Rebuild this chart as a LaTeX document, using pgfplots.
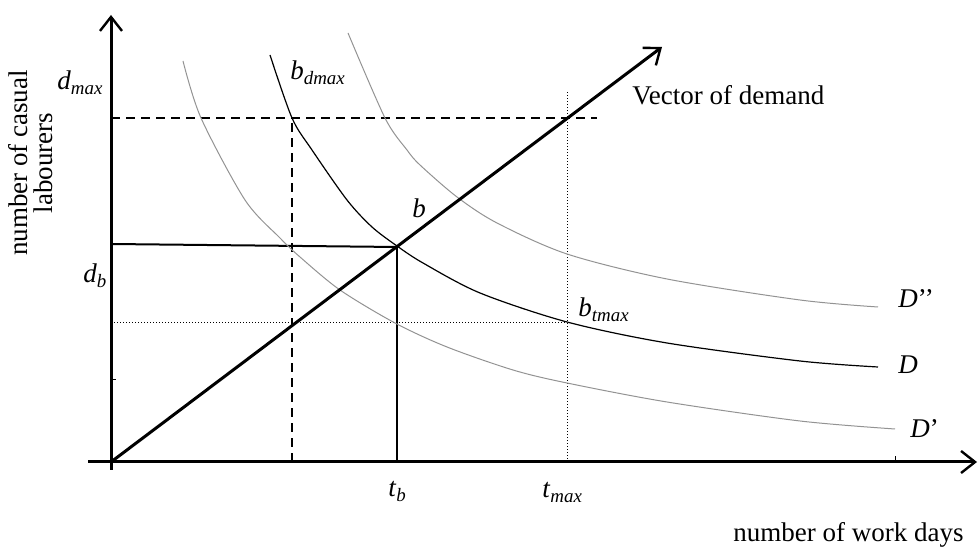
\documentclass[border=0pt]{standalone}
\usepackage{fontspec}
\setmainfont{Liberation Serif}
\usepackage{pgfplots}
\pgfplotsset{compat=1.18}
\usetikzlibrary{arrows.meta}

\newcommand{\isub}[2]{\textit{#1}\textsubscript{\textit{#2}}}

\begin{document}
\begin{tikzpicture}[font=\fontsize{13.5}{16}\selectfont]
\begin{axis}[
  scale only axis,
  width=489.5pt, height=275pt,
  xmin=0, xmax=979, ymin=0, ymax=550,
  hide axis, clip=false,
  every axis plot/.append style={line cap=butt},
]
% axes
\addplot[black, line width=1.5pt, -{Straight Barb[length=7pt,width=11pt,line width=1.2pt]}] coordinates {(88,88)(977,88)};
\addplot[black, line width=1.5pt, -{Straight Barb[length=7pt,width=11pt,line width=1.2pt]}] coordinates {(111,80)(111,535)};
\addplot[black, line width=0.4pt] coordinates {(895,88)(895,94)};
\addplot[black, line width=0.4pt] coordinates {(111,171)(116,171)};

% guide lines
\addplot[black, line width=1pt, dash pattern=on 4.5pt off 3pt] coordinates {(111,432)(597,432)};
\addplot[black, line width=1pt, dash pattern=on 4.5pt off 3pt] coordinates {(292,88)(292,432)};
\addplot[black, line width=1pt] coordinates {(111,306)(397,303)};
\addplot[black, line width=1pt] coordinates {(397,88)(397,303)};
\addplot[black, line width=0.5pt, densely dotted] coordinates {(111,227)(567,227)};
\addplot[black, line width=0.5pt, densely dotted] coordinates {(567,88)(567,458)};

% indifference curves
\addplot[gray!85, line width=0.5pt, smooth] coordinates {
  (183,489)(201,432)(245,350)(280,312)(300,293)(340,260)(395,227)
  (447,203)(513,180)(567,167)(667,148)(800,129)(895,121)};
\addplot[black, line width=0.6pt, smooth] coordinates {
  (270,495)(292,432)(312,400)(347,350)(372,323)(397,304)
  (423,287)(480,257)(567,228)(667,207)(800,189)(878,183)};
\addplot[gray!85, line width=0.5pt, smooth] coordinates {
  (348,517)(385,432)(407,400)(420,385)(457,353)(497,327)(567,296)
  (667,271)(800,250)(878,243)};

% vector of demand
\addplot[black, line width=1.5pt, -{Straight Barb[length=7pt,width=11pt,line width=1.2pt]}] coordinates {(111,88)(662,503)};

% labels
\node[anchor=base west, inner sep=0pt] at (axis cs:632,445) {Vector of demand};
\node[anchor=base west, inner sep=0pt] at (axis cs:57,460) {\isub{d}{max}};
\node[anchor=base west, inner sep=0pt] at (axis cs:83,267) {\isub{d}{b}};
\node[anchor=base west, inner sep=0pt] at (axis cs:290,470) {\isub{b}{dmax}};
\node[anchor=base west, inner sep=0pt] at (axis cs:412,332) {\textit{b}};
\node[anchor=base west, inner sep=0pt] at (axis cs:578,233) {\isub{b}{tmax}};
\node[anchor=base west, inner sep=0pt] at (axis cs:898,242) {\textit{D}’’};
\node[anchor=base west, inner sep=0pt] at (axis cs:898,176) {\textit{D}};
\node[anchor=base west, inner sep=0pt] at (axis cs:910,112) {\textit{D}’};
\node[anchor=base west, inner sep=0pt] at (axis cs:388,53) {\isub{t}{b}};
\node[anchor=base west, inner sep=0pt] at (axis cs:542,52) {\isub{t}{max}};
\node[anchor=base west, inner sep=0pt] at (axis cs:733,8) {number of work days};
\node[rotate=90, align=center, inner sep=0pt,
  font=\fontsize{13.5}{12.5}\selectfont] at (axis cs:31,387) {number of casual\\labourers};
\end{axis}
\pgfresetboundingbox
\path (current axis.south west) rectangle (current axis.north east);
\end{tikzpicture}
\end{document}
